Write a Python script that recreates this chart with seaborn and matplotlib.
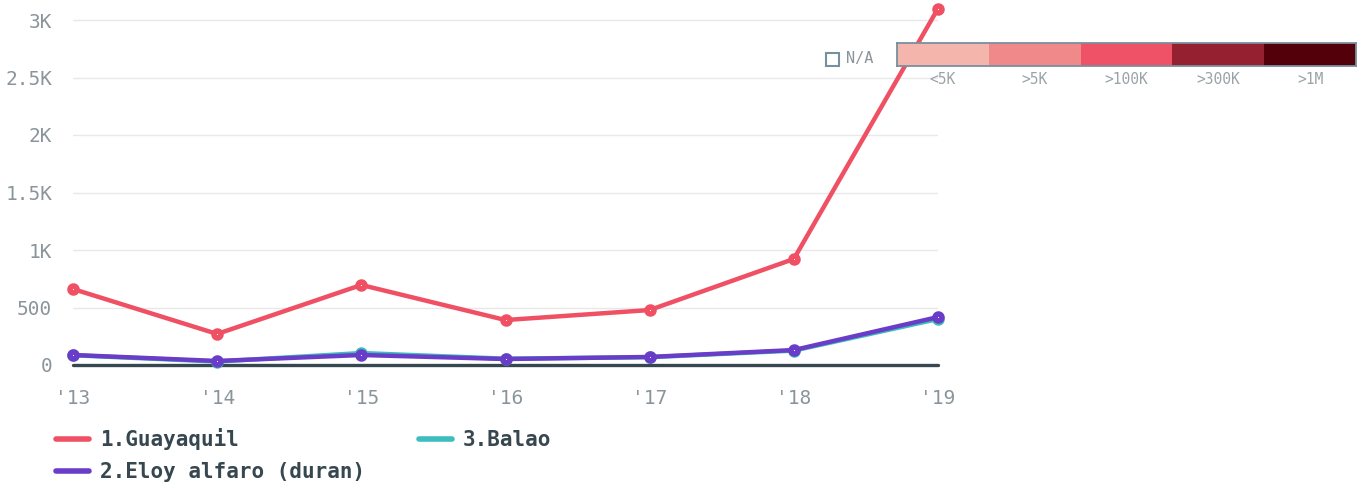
import pandas as pd
import seaborn as sns
import matplotlib.pyplot as plt
from matplotlib.patches import Rectangle
from matplotlib.lines import Line2D

# Chart data
years = [2013, 2014, 2015, 2016, 2017, 2018, 2019]
year_labels = ["'13", "'14", "'15", "'16", "'17", "'18", "'19"]
guayaquil = [661, 270, 696, 391, 478, 922, 3100]
balao = [85, 30, 104, 55, 68, 125, 400]
eloy_alfaro = [87, 35, 87, 52, 70, 130, 417]

series_names = ["1.Guayaquil", "3.Balao", "2.Eloy alfaro (duran)"]
series_values = [guayaquil, balao, eloy_alfaro]
series_colors = ["#ef5064", "#3dbdbd", "#6a3dc8"]
legend_order = ["1.Guayaquil", "2.Eloy alfaro (duran)", "3.Balao"]

y_ticks = [0, 500, 1000, 1500, 2000, 2500, 3000]
y_tick_labels = ["0", "500", "1K", "1.5K", "2K", "2.5K", "3K"]

scale_labels = ["<5K", ">5K", ">100K", ">300K", ">1M"]
scale_colors = ["#f4b6ac", "#f08a8a", "#ef5266", "#952130", "#54000b"]

rows = []
for name, vals in zip(series_names, series_values):
    for yr, v in zip(years, vals):
        rows.append({"year": yr, "value": v, "district": name})
df = pd.DataFrame(rows)

sns.set_theme(style="white")
plt.rcParams["font.family"] = ["DejaVu Sans Mono", "DejaVu Sans"]

grey = "#8a959b"
dark = "#37474f"
W, H = 1364, 488

fig = plt.figure(figsize=(W / 100, H / 100), dpi=100)
ax = fig.add_axes([73 / W, (H - 365) / H, (938 - 73) / W, (365 - 8.5) / H])

palette = dict(zip(series_names, series_colors))
for name in series_names:
    sub = df[df["district"] == name]
    sns.lineplot(data=sub, x="year", y="value", color=palette[name], lw=3.2,
                 marker="o", markersize=5, markeredgewidth=4,
                 markerfacecolor="white", markeredgecolor=palette[name],
                 ax=ax, clip_on=False, zorder=3, legend=False)

ax.set_xlim(years[0], years[-1])
ax.set_ylim(0, 3100)
ax.set_xticks(years)
ax.set_xticklabels(year_labels)
ax.set_yticks(y_ticks)
ax.set_yticklabels(y_tick_labels)
ax.set_xlabel("")
ax.set_ylabel("")
ax.tick_params(axis="both", length=0, labelsize=14, labelcolor=grey)
ax.tick_params(axis="x", pad=17)
ax.tick_params(axis="y", pad=15)
for s in ax.spines.values():
    s.set_visible(False)
ax.grid(axis="y", color="#e8e8e8", lw=1)
ax.axhline(0, color=dark, lw=2.4, zorder=2, clip_on=False)

# series legend at the bottom
handles = [Line2D([0], [0], color=palette[n], lw=4) for n in legend_order]
fig.legend(handles, legend_order, loc="upper left", bbox_to_anchor=(56 / W, (H - 428) / H),
           ncol=2, frameon=False, handlelength=1.6, handletextpad=0.5,
           columnspacing=2.6, labelspacing=0.6, borderpad=0, borderaxespad=0,
           prop={"family": "DejaVu Sans Mono", "weight": "bold", "size": 15},
           labelcolor=dark)

# colour scale legend top right
cax = fig.add_axes([897 / W, (H - 66) / H, (1356 - 897) / W, 23 / H])
cax.bar(range(len(scale_labels)), [1] * len(scale_labels), width=1,
        color=scale_colors, linewidth=0)
cax.set_xlim(-0.5, len(scale_labels) - 0.5)
cax.set_ylim(0, 1)
cax.set_yticks([])
cax.set_xticks(range(len(scale_labels)))
cax.set_xticklabels(scale_labels)
cax.tick_params(axis="x", length=0, labelsize=10.5, labelcolor="#9aa3a8", pad=4)
for s in cax.spines.values():
    s.set_color("#78909c")
    s.set_linewidth(1.3)

fig.patches.append(Rectangle((826 / W, (H - 66) / H), 13 / W, 13 / H,
                             transform=fig.transFigure, fill=False,
                             edgecolor="#78909c", lw=1.5))
fig.text(846 / W, (H - 59) / H, "N/A", fontsize=11, color=grey, va="center", ha="left")

fig.savefig("out.png", dpi=100)
